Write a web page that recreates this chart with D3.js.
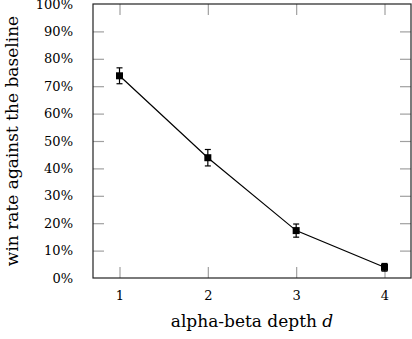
<!DOCTYPE html>
<html>
<head>
<meta charset="utf-8">
<script src="https://cdnjs.cloudflare.com/ajax/libs/d3/7.8.5/d3.min.js"></script>
<style>
  body { margin: 0; background: #fff; }
  svg text { font-family: "DejaVu Serif", serif; fill: #000; }
</style>
</head>
<body>
<svg id="chart"></svg>
<script>
var width = 412,
    height = 339;

// data
var depths = [1, 2, 3, 4];
var winRate = [73.8, 43.9, 17.3, 3.9];
var winErr = [2.9, 3.0, 2.4, 1.4];
var yTicks = [0, 10, 20, 30, 40, 50, 60, 70, 80, 90, 100];

var margin = {left: 93, right: 1, top: 4, bottom: 61};

var x = d3.scaleLinear()
    .domain([0.7, 4.3])
    .range([margin.left, width - margin.right]);

var y = d3.scaleLinear()
    .domain([0, 100])
    .range([height - margin.bottom, margin.top]);

var svg = d3.select("#chart")
    .attr("width", width)
    .attr("height", height);

var tickLen = 11;
var tickColor = "#a0a0a0";

// ticks on all four sides, pointing inwards
var xb = svg.append("g")
    .attr("transform", "translate(0," + y(0) + ")")
    .call(d3.axisBottom(x).tickValues(depths).tickSize(-tickLen).tickPadding(tickLen + 2).tickFormat(d3.format("d")));
var xt = svg.append("g")
    .attr("transform", "translate(0," + y(100) + ")")
    .call(d3.axisTop(x).tickValues(depths).tickSize(-tickLen).tickFormat(""));
var yl = svg.append("g")
    .attr("transform", "translate(" + x(0.7) + ",0)")
    .call(d3.axisLeft(y).tickValues(yTicks).tickSize(-tickLen).tickPadding(tickLen + 9).tickFormat(function (d) { return d + "%"; }));
var yr = svg.append("g")
    .attr("transform", "translate(" + x(4.3) + ",0)")
    .call(d3.axisRight(y).tickValues(yTicks.slice(1, -1)).tickSize(-tickLen).tickFormat(""));

[xb, xt, yl, yr].forEach(function (g) {
    g.select(".domain").remove();
    g.selectAll(".tick line").attr("stroke", tickColor).attr("stroke-width", 1.2);
    g.selectAll(".tick text").style("font-size", "13px");
});
// no tick mark at 0% / 100% on the left (they sit on the frame)
yl.selectAll(".tick").filter(function (d) { return d === 0 || d === 100; }).select("line").remove();

// frame
svg.append("rect")
    .attr("x", x(0.7))
    .attr("y", y(100))
    .attr("width", x(4.3) - x(0.7))
    .attr("height", y(0) - y(100))
    .attr("fill", "none")
    .attr("stroke", "#222")
    .attr("stroke-width", 1.2);

// line
var line = d3.line()
    .x(function (d, i) { return x(depths[i]); })
    .y(function (d) { return y(d); });

svg.append("path")
    .datum(winRate)
    .attr("d", line)
    .attr("fill", "none")
    .attr("stroke", "#000")
    .attr("stroke-width", 1.2);

// error bars
var eb = svg.append("g").selectAll("g")
    .data(winRate)
    .enter()
    .append("g");

eb.append("line")
    .attr("x1", function (d, i) { return x(depths[i]); })
    .attr("x2", function (d, i) { return x(depths[i]); })
    .attr("y1", function (d, i) { return y(d - winErr[i]); })
    .attr("y2", function (d, i) { return y(d + winErr[i]); })
    .attr("stroke", "#000")
    .attr("stroke-width", 1.2);

[-1, 1].forEach(function (s) {
    eb.append("line")
        .attr("x1", function (d, i) { return x(depths[i]) - 3; })
        .attr("x2", function (d, i) { return x(depths[i]) + 3; })
        .attr("y1", function (d, i) { return y(d + s * winErr[i]); })
        .attr("y2", function (d, i) { return y(d + s * winErr[i]); })
        .attr("stroke", "#000")
        .attr("stroke-width", 1.2);
});

// markers
svg.append("g").selectAll("rect")
    .data(winRate)
    .enter()
    .append("rect")
    .attr("x", function (d, i) { return x(depths[i]) - 3.5; })
    .attr("y", function (d) { return y(d) - 3.5; })
    .attr("width", 7)
    .attr("height", 7)
    .attr("fill", "#000");

// axis labels
svg.append("text")
    .attr("x", (x(0.7) + x(4.3)) / 2)
    .attr("y", 327)
    .attr("text-anchor", "middle")
    .style("font-size", "17px")
    .html("alpha-beta depth <tspan font-style='italic'>d</tspan>");

svg.append("text")
    .attr("transform", "translate(18," + (y(0) + y(100)) / 2 + ") rotate(-90)")
    .attr("text-anchor", "middle")
    .style("font-size", "17px")
    .text("win rate against the baseline");
</script>
</body>
</html>
